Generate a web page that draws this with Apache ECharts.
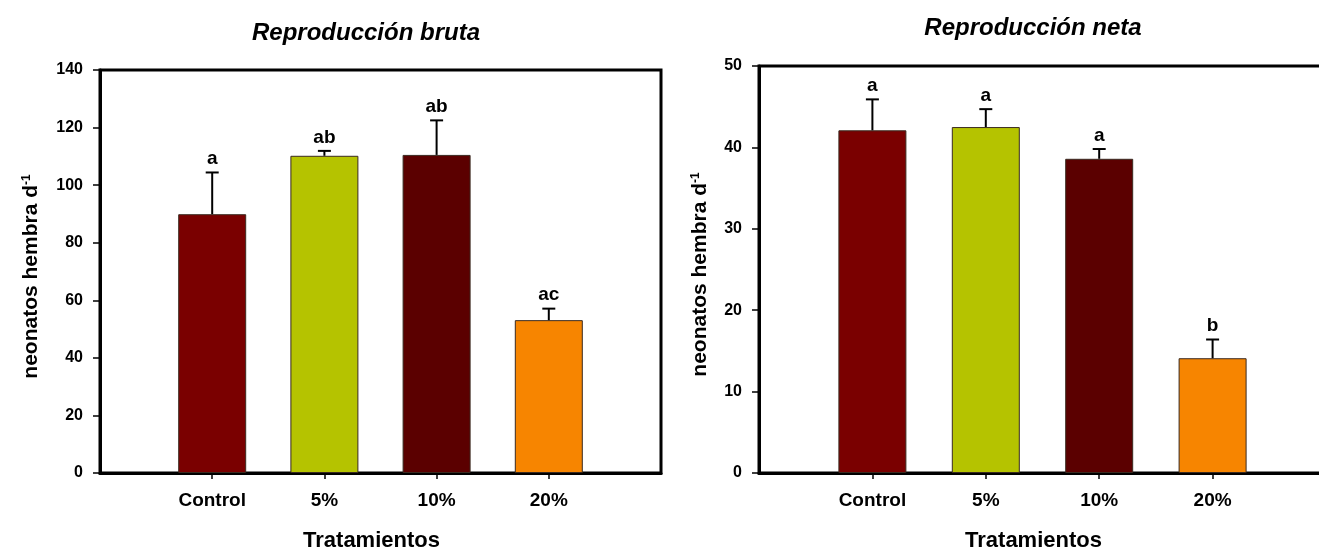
<!DOCTYPE html>
<html>
<head>
<meta charset="utf-8">
<script src="https://cdn.jsdelivr.net/npm/echarts@6/dist/echarts.min.js"></script>
<style>html,body{margin:0;padding:0;background:#fff}#c{width:1319px;height:549px}</style>
</head>
<body>
<div id="c"></div>
<script>
// ---- data ----
const categories = ['Control', '5%', '10%', '20%'];
const brutaMeans = [89.9, 110.2, 110.5, 53.1];
const brutaErr = [14.5, 1.7, 12.0, 4.0];
const brutaLetters = ['a', 'ab', 'ab', 'ac'];
const netaMeans = [42.1, 42.5, 38.6, 14.1];
const netaErr = [3.8, 2.2, 1.2, 2.3];
const netaLetters = ['a', 'a', 'a', 'b'];
const brutaTicks = [0, 20, 40, 60, 80, 100, 120, 140];
const netaTicks = [0, 10, 20, 30, 40, 50];

// ---- style ----
const barColors = ['#7A0000', '#B5C300', '#5B0000', '#F78500'];
const FONT = '"Liberation Sans", Arial, sans-serif';

const chart = echarts.init(document.getElementById('c'), null, { renderer: 'canvas' });

function xAxisFor(gridIndex, xmax) {
  return {
    type: 'value', gridIndex: gridIndex, min: 0, max: xmax, interval: 1,
    name: 'Tratamientos', nameLocation: 'middle', nameGap: 57,
    nameTextStyle: { fontFamily: FONT, fontWeight: 'bold', fontSize: 22, color: '#000', padding: [0, 18, 0, 0] },
    axisLine: { show: true, onZero: false, lineStyle: { color: '#000', width: 3 } },
    axisTick: { show: true, inside: false, length: 6, customValues: [1, 2, 3, 4], lineStyle: { color: '#000', width: 1.5 } },
    axisLabel: {
      customValues: [1, 2, 3, 4], margin: 18,
      formatter: v => categories[Math.round(v) - 1] || '',
      fontFamily: FONT, fontWeight: 'bold', fontSize: 19, color: '#000'
    },
    splitLine: { show: false }
  };
}

function yAxisFor(gridIndex, ticks, gap) {
  const step = ticks[1] - ticks[0];
  return {
    type: 'value', gridIndex: gridIndex, min: ticks[0], max: ticks[ticks.length - 1], interval: step,
    name: 'neonatos hembra d{sup|-1}', nameLocation: 'middle', nameGap: gap,
    nameTextStyle: {
      fontFamily: FONT, fontWeight: 'bold', fontSize: 21, color: '#000', padding: [0, 10, 0, 0],
      rich: { sup: { fontFamily: FONT, fontWeight: 'bold', fontSize: 12, color: '#000', verticalAlign: 'top', padding: [0, 0, 8, 0] } }
    },
    axisLine: { show: true, lineStyle: { color: '#000', width: 3 } },
    axisTick: { show: true, inside: false, length: 7, lineStyle: { color: '#000', width: 1.5 } },
    axisLabel: { margin: 17, fontFamily: FONT, fontWeight: 'bold', fontSize: 16, color: '#000' },
    splitLine: { show: false }
  };
}

function barSeries(idx, means, bw) {
  return {
    type: 'bar', xAxisIndex: idx, yAxisIndex: idx, barWidth: bw,
    data: means.map((v, i) => ({ value: [i + 1, v], itemStyle: { color: barColors[i], borderColor: '#3a2a20', borderWidth: 1 } })),
    z: 2, animation: false
  };
}

function errSeries(idx, means, errs, letters) {
  return {
    type: 'custom', xAxisIndex: idx, yAxisIndex: idx, z: 3, animation: false, clip: false,
    data: means.map((v, i) => [i + 1, v, errs[i]]),
    renderItem: function (params, api) {
      const x = api.value(0), m = api.value(1), e = api.value(2);
      const p0 = api.coord([x, m]);
      const p1 = api.coord([x, m + e]);
      const half = 6.5;
      return {
        type: 'group',
        children: [
          { type: 'line', shape: { x1: p0[0], y1: p0[1], x2: p1[0], y2: p1[1] }, style: { stroke: '#000', lineWidth: 2 } },
          { type: 'line', shape: { x1: p1[0] - half, y1: p1[1], x2: p1[0] + half, y2: p1[1] }, style: { stroke: '#000', lineWidth: 2 } },
          { type: 'text', x: p1[0], y: p1[1] - 4,
            style: { text: letters[params.dataIndex], fill: '#000', font: 'bold 19px ' + FONT, align: 'center', verticalAlign: 'bottom' } }
        ]
      };
    }
  };
}

const option = {
  backgroundColor: '#fff',
  animation: false,
  grid: [
    { left: 100, top: 70, width: 561, height: 403, show: true, borderColor: '#000', borderWidth: 3, backgroundColor: 'transparent', containLabel: false, outerBoundsMode: 'none' },
    { left: 759, top: 66, width: 567, height: 407, show: true, borderColor: '#000', borderWidth: 3, backgroundColor: 'transparent', containLabel: false, outerBoundsMode: 'none' }
  ],
  xAxis: [xAxisFor(0, 5), xAxisFor(1, 5)],
  yAxis: [yAxisFor(0, brutaTicks, 58), yAxisFor(1, netaTicks, 48)],
  graphic: [
    { type: 'text', x: 366, y: 33, style: { text: 'Reproducción bruta', font: 'italic bold 24px ' + FONT, fill: '#000', align: 'center', verticalAlign: 'middle' } },
    { type: 'text', x: 1033, y: 28, style: { text: 'Reproducción neta', font: 'italic bold 24px ' + FONT, fill: '#000', align: 'center', verticalAlign: 'middle' } }
  ],
  series: [
    barSeries(0, brutaMeans, 68),
    errSeries(0, brutaMeans, brutaErr, brutaLetters),
    barSeries(1, netaMeans, 68),
    errSeries(1, netaMeans, netaErr, netaLetters)
  ]
};
chart.setOption(option);
</script>
</body>
</html>
